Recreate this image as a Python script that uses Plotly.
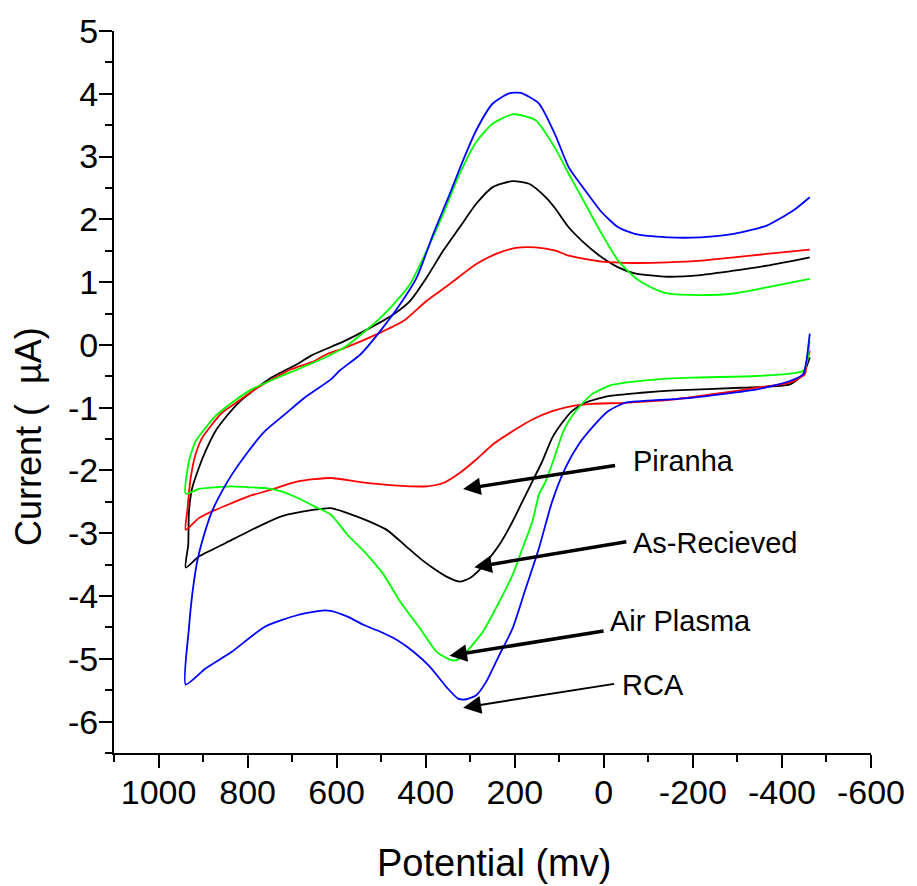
import plotly.graph_objects as go

# ---------------- data (potential in mV, current in µA) ----------------
# Each loop: lower (reduction) branch from right end to left end, then upper branch left to right
rca_lower_x = [-462.5, -454.9, -447.6, -418, -343.7, -195.6, -84.3, -47.2, -10, 26.9, 56.7, 86.3, 115.9,
               145.7, 175.3, 204.9, 234.7, 264.3, 286.5, 308.8, 327.3, 353.3, 390.4, 427.4, 464.5, 501.7,
               538.6, 575.7, 612.9, 627.6, 687, 761.1, 835.4, 894.5, 939]
rca_lower_y = [0.181, -0.256, -0.468, -0.575, -0.708, -0.842, -0.895, -0.922, -1.054, -1.321, -1.586, -1.960,
               -2.492, -3.238, -3.877, -4.516, -4.941, -5.367, -5.580, -5.644, -5.634, -5.45, -5.128, -4.888,
               -4.701, -4.569, -4.462, -4.329, -4.238, -4.228, -4.302, -4.489, -4.888, -5.155, -5.410]
rca_upper_x = [931.7, 924.4, 913.2, 902.1, 879.9, 857.6, 835.4, 798.2, 761.1, 716.6, 672.1, 612.9, 594.2,
               546.2, 501.7, 457.2, 420, 382.9, 345.9, 316.1, 286.5, 249.4, 212.5, 186.4, 145.7, 108.6, 79,
               41.8, 4.7, -32.3, -69.4, -143.5, -217.8, -291.9, -366, -425.4, -462.5]
rca_upper_y = [-4.516, -3.983, -3.45, -3.13, -2.652, -2.332, -2.066, -1.693, -1.374, -1.107, -0.842, -0.548,
               -0.415, -0.149, 0.224, 0.650, 1.075, 1.768, 2.407, 2.939, 3.419, 3.845, 4.005, 4.014, 3.845,
               3.339, 2.832, 2.460, 2.113, 1.874, 1.768, 1.714, 1.714, 1.768, 1.901, 2.141, 2.353]

air_lower_x = [-462, -457, -447.6, -418, -343.7, -195.6, -121.2, -47.2, -10, 26.9, 56.7, 79, 93.7, 108.6,
               130.8, 145.7, 160.4, 182.6, 204.9, 234.7, 271.6, 308.8, 331, 345.9, 375.5, 412.7, 457.2,
               494.1, 531.3, 575.7, 612.9, 649.8, 687, 724.1, 761.1, 798.2, 835.4, 872.3, 909.5, 939]
air_lower_y = [0.064, -0.25, -0.415, -0.458, -0.495, -0.522, -0.548, -0.602, -0.655, -0.788, -1.001, -1.214,
               -1.427, -1.746, -2.173, -2.385, -2.812, -3.238, -3.663, -4.089, -4.569, -4.888, -5.021, -5.011,
               -4.888, -4.516, -4.089, -3.663, -3.343, -3.024, -2.705, -2.572, -2.439, -2.332, -2.279,
               -2.268, -2.252, -2.268, -2.295, -2.369]
air_upper_x = [931.7, 916.8, 894.5, 872.3, 835.4, 790.9, 724.1, 687, 620, 583, 509, 471.9, 434.9, 397.8,
               360.6, 323.7, 286.5, 249.4, 212.5, 197.5, 153, 108.6, 79, 41.8, 4.7, -32.3, -69.4, -106.6,
               -143.5, -217.8, -291.9, -366, -462.5]
air_upper_y = [-1.853, -1.534, -1.321, -1.134, -0.922, -0.708, -0.495, -0.388, -0.18, -0.043, 0.383, 0.650,
               0.970, 1.502, 2.088, 2.727, 3.232, 3.526, 3.658, 3.674, 3.578, 3.126, 2.727, 2.248, 1.768,
               1.342, 1.075, 0.915, 0.819, 0.794, 0.819, 0.915, 1.050]

asr_lower_x = [-462.5, -455, -447.6, -418, -306.8, -158.4, -84.3, -10, 41.8, 71.4, 93.7, 115.9, 138.1,
               160.4, 182.6, 204.9, 234.7, 256.9, 279.2, 301.4, 323.7, 353.3, 382.9, 412.7, 442.3, 486.8,
               531.3, 575.7, 612.9, 649.8, 724.1, 798.2, 850.1, 909.5, 939]
asr_lower_y = [-0.2, -0.35, -0.468, -0.628, -0.682, -0.724, -0.762, -0.815, -0.922, -1.054, -1.241, -1.481,
               -1.853, -2.173, -2.492, -2.812, -3.184, -3.397, -3.583, -3.717, -3.770, -3.690, -3.557,
               -3.40, -3.22, -2.95, -2.80, -2.679, -2.599, -2.625, -2.732, -2.971, -3.158, -3.371, -3.546]
asr_upper_x = [933.3, 931.7, 924.4, 909.5, 894.5, 872.3, 850.1, 820.5, 783.3, 746.4, 687, 657.4, 583,
               523.9, 471.9, 434.9, 397.8, 360.6, 323.7, 286.5, 249.4, 204.9, 167.8, 130.8, 108.6, 79, 41.8,
               4.7, -32.3, -69.4, -143.5, -217.8, -291.9, -366, -462.5]
asr_upper_y = [-3.184, -2.652, -2.279, -1.960, -1.693, -1.374, -1.161, -0.922, -0.708, -0.52, -0.30, -0.17,
               0.06, 0.276, 0.490, 0.703, 1.075, 1.502, 1.874, 2.248, 2.513, 2.609, 2.567, 2.353, 2.168,
               1.874, 1.609, 1.395, 1.235, 1.139, 1.086, 1.113, 1.182, 1.262, 1.395]

pir_lower_x = [-462.5, -455, -451.4, -418, -343.7, -269.6, -158.4, -47.2, 26.9, 71.4, 115.9, 160.4, 204.9,
               249.4, 286.5, 323.7, 360.6, 397.8, 471.9, 546.2, 612.9, 687, 746.4, 798.2, 835.4, 879.9,
               909.5, 939]
pir_lower_y = [-0.096, -0.3, -0.468, -0.602, -0.682, -0.762, -0.868, -0.922, -0.938, -0.974, -1.054, -1.187,
               -1.374, -1.586, -1.826, -2.040, -2.200, -2.252, -2.236, -2.184, -2.120, -2.173, -2.305,
               -2.412, -2.519, -2.652, -2.759, -2.945]
pir_upper_x = [935.5, 927.9, 916.8, 902.1, 879.9, 857.6, 820.5, 783.3, 724.1, 701.9, 649.8, 620.3, 583, 509,
               449.6, 397.8, 345.9, 286.5, 242, 197.5, 153, 108.6, 79, 4.7, -69.4, -143.5, -217.8, -291.9,
               -366, -462.5]
pir_upper_y = [-2.652, -2.120, -1.746, -1.481, -1.267, -1.081, -0.895, -0.708, -0.468, -0.388, -0.256,
               -0.14, -0.05, 0.171, 0.383, 0.703, 0.970, 1.289, 1.449, 1.545, 1.554, 1.502, 1.422, 1.326,
               1.305, 1.315, 1.342, 1.395, 1.449, 1.518]

series_names = ["As-Recieved", "Piranha", "Air Plasma", "RCA"]
series_colors = ["#000000", "#FF0000", "#00FF00", "#0000FF"]

x_tick_vals = [1000, 800, 600, 400, 200, 0, -200, -400, -600]
x_tick_text = ["1000", "800", "600", "400", "200", "0", "-200", "-400", "-600"]
x_minor_vals = [1100, 900, 700, 500, 300, 100, -100, -300, -500]
y_tick_vals = [-6, -5, -4, -3, -2, -1, 0, 1, 2, 3, 4, 5]
y_tick_text = ["-6", "-5", "-4", "-3", "-2", "-1", "0", "1", "2", "3", "4", "5"]
y_minor_vals = [-6.5, -5.5, -4.5, -3.5, -2.5, -1.5, -0.5, 0.5, 1.5, 2.5, 3.5, 4.5]

# annotation labels: (text, text x, text y, arrow head x, head y, tail x, tail y, line width)
label_text = ["Piranha", "As-Recieved", "Air Plasma", "RCA"]
label_x = [-60.5, -60.5, -8.7, -36]
label_y = [-1.853, -3.158, -4.393, -5.41]
head_x = [316, 291, 346.6, 316]
head_y = [-2.296, -3.541, -4.952, -5.778]
tail_x = [-28.7, -53.9, -2.7, -26.5]
tail_y = [-1.917, -3.131, -4.553, -5.395]
arrow_w = [3.5, 3.5, 3.5, 2]

# ---------------- figure ----------------
loops = [
    (asr_lower_x + asr_upper_x, asr_lower_y + asr_upper_y),
    (pir_lower_x + pir_upper_x, pir_lower_y + pir_upper_y),
    (air_lower_x + air_upper_x, air_lower_y + air_upper_y),
    (rca_lower_x + rca_upper_x, rca_lower_y + rca_upper_y),
]

fig = go.Figure()
for (xs, ys), name, col in zip(loops, series_names, series_colors):
    fig.add_trace(go.Scatter(x=xs, y=ys, mode="lines", name=name,
                             line=dict(color=col, width=1.8, shape="spline", smoothing=0.6),
                             showlegend=False))

font_main = "Arial, Liberation Sans, sans-serif"

for t, lx, ly, hx, hy, tx, ty, w in zip(label_text, label_x, label_y, head_x, head_y, tail_x, tail_y, arrow_w):
    fig.add_annotation(x=hx, y=hy, ax=tx, ay=ty, xref="x", yref="y", axref="x", ayref="y",
                       text="", showarrow=True, arrowhead=2, arrowsize=1.8 if w < 3 else 1.0,
                       arrowwidth=w, arrowcolor="black", standoff=0)
    fig.add_annotation(x=lx, y=ly, xref="x", yref="y", text=t, showarrow=False,
                       xanchor="left", yanchor="middle",
                       font=dict(family=font_main, size=29, color="black"))

# axis titles as annotations for precise placement
fig.add_annotation(x=0.502, y=-0.152, xref="paper", yref="paper", text="Potential (mv)",
                   showarrow=False, xanchor="center", yanchor="middle",
                   font=dict(family=font_main, size=38, color="black"))
fig.add_annotation(x=-0.112, y=0.438, xref="paper", yref="paper", text="Current (\u00a0\u00a0µA)",
                   showarrow=False, textangle=-90, xanchor="center", yanchor="middle",
                   font=dict(family=font_main, size=36, color="black"))

axis_common = dict(showgrid=False, zeroline=False, showline=True, linecolor="black", linewidth=2,
                   ticks="outside", ticklen=13, tickwidth=2, tickcolor="black", mirror=False,
                   tickfont=dict(family=font_main, size=34, color="black"))

fig.update_xaxes(range=[1100, -600], tickmode="array", tickvals=x_tick_vals, ticktext=x_tick_text,
                 ticklabelstandoff=-5,
                 minor=dict(tickmode="array", tickvals=x_minor_vals, ticks="outside", ticklen=7,
                            tickwidth=2, tickcolor="black"),
                 **axis_common)
fig.update_yaxes(range=[-6.5, 5.0], tickmode="array", tickvals=y_tick_vals, ticktext=y_tick_text,
                 ticklabelstandoff=-6,
                 minor=dict(tickmode="array", tickvals=y_minor_vals, ticks="outside", ticklen=7,
                            tickwidth=2, tickcolor="black"),
                 **axis_common)

fig.update_layout(width=917, height=886, margin=dict(l=114, r=38, t=31, b=133),
                  paper_bgcolor="white", plot_bgcolor="white", showlegend=False)

fig.write_html("out.html")
